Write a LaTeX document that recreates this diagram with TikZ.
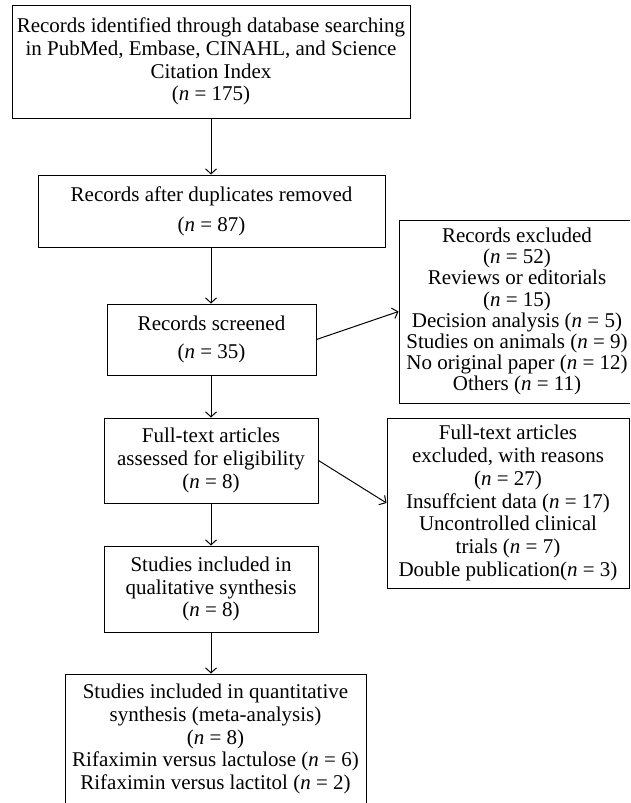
\documentclass[tikz,border=0pt]{standalone}
\usepackage{fontspec}
\setmainfont{Liberation Serif}
\usetikzlibrary{arrows.meta}
\newcommand{\nn}{\textit{n}}
\begin{document}
\begin{tikzpicture}[x=1pt,y=-1pt,
  box/.style={draw, line width=1pt, inner sep=0pt, align=center,
    font=\fontsize{21}{22.7}\selectfont},
  tightbox/.style={box, font=\fontsize{21}{21.1}\selectfont},
  arr/.style={line width=1pt, -{Straight Barb[length=5pt,width=11pt,line width=1pt]}}]
\useasboundingbox (0,0) rectangle (630,803);
\clip (0,0) rectangle (630,803);

\node[box, minimum width=398pt, minimum height=113pt] (b1) at (211,61.5)
  {Records identified through database searching\\in PubMed, Embase, CINAHL, and Science\\Citation Index\\(\nn{} = 175)};
\node[box, minimum width=347pt, minimum height=72pt] (b2) at (211.5,211)
  {Records after duplicates removed\\[7pt](\nn{} = 87)};
\node[box, minimum width=209pt, minimum height=71pt] (b3) at (211.5,339.5)
  {Records screened\\[5pt](\nn{} = 35)};
\node[box, minimum width=214pt, minimum height=85pt] (b4) at (211,460.5)
  {Full-text articles\\assessed for eligibility\\(\nn{} = 8)};
\node[box, minimum width=214pt, minimum height=86pt] (b5) at (211,589)
  {Studies included in\\qualitative synthesis\\(\nn{} = 8)};
\node[box, minimum width=301pt, minimum height=130pt] (b6) at (215.5,739)
  {Studies included in quantitative\\synthesis (meta-analysis)\\(\nn{} = 8)\\Rifaximin versus lactulose (\nn{} = 6)\\Rifaximin versus lactitol (\nn{} = 2)};

\node[tightbox, minimum width=236pt, minimum height=183pt] (r1) at (517,311.5)
  {Records excluded\\(\nn{} = 52)\\Reviews or editorials\\(\nn{} = 15)\\Decision analysis (\nn{} = 5)\\Studies on animals (\nn{} = 9)\\No original paper (\nn{} = 12)\\Others (\nn{} = 11)};
\node[box, minimum width=242pt, minimum height=170pt] (r2) at (508,503)
  {Full-text articles\\excluded, with reasons\\(\nn{} = 27)\\Insuffcient data (\nn{} = 17)\\Uncontrolled clinical\\trials (\nn{} = 7)\\Double publication(\nn{} = 3)};

\draw[arr] (b1.south) -- (b1.south |- b2.north);
\draw[arr] (b1.south |- b2.south) -- (b1.south |- b3.north);
\draw[arr] (b1.south |- b3.south) -- (b1.south |- b4.north);
\draw[arr] (b4.south) -- (b4.south |- b5.north);
\draw[arr] (b5.south) -- (b5.south |- b6.north);
\draw[arr] (b3.east) -- (r1.west);
\draw[arr] (b4.east) -- (r2.west);
\end{tikzpicture}
\end{document}
